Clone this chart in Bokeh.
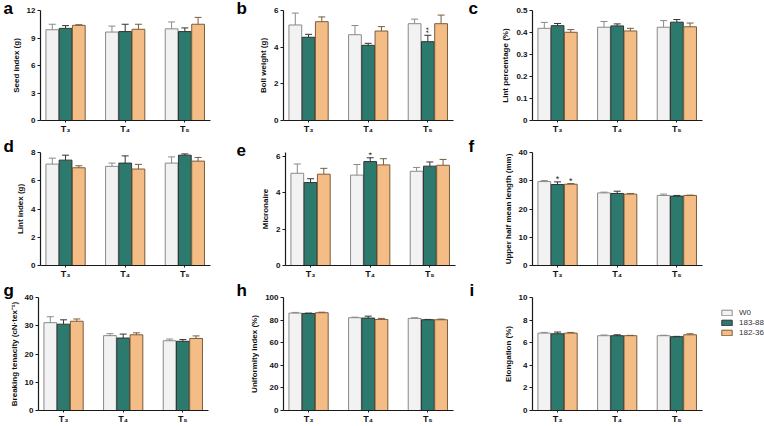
from bokeh.plotting import figure
from bokeh.layouts import column, row
from bokeh.models import (ColumnDataSource, Whisker, TeeHead, FixedTicker, Label,
                          Legend, LegendItem, Range1d)
from bokeh.embed import file_html
from bokeh.resources import INLINE

# ---------------- data ----------------
groups = ["T₃", "T₄", "T₅"]
series = ["W0", "183-88", "182-36"]

# each list: [W0, 183-88, 182-36], each inner list: [T3, T4, T5]
seed_mean = [[9.90, 9.65, 10.00], [10.05, 9.70, 9.70], [10.38, 9.95, 10.50]]
seed_sd = [[0.60, 0.65, 0.75], [0.30, 0.80, 0.40], [0.07, 0.55, 0.75]]

boll_mean = [[5.21, 4.68, 5.28], [4.54, 4.10, 4.30], [5.39, 4.88, 5.28]]
boll_sd = [[0.65, 0.50, 0.25], [0.16, 0.11, 0.35], [0.26, 0.24, 0.47]]

lintpct_mean = [[0.419, 0.424, 0.424], [0.431, 0.430, 0.447], [0.401, 0.407, 0.426]]
lintpct_sd = [[0.027, 0.026, 0.030], [0.010, 0.009, 0.012], [0.012, 0.012, 0.017]]

lintidx_mean = [[7.18, 7.02, 7.25], [7.46, 7.25, 7.81], [6.92, 6.83, 7.39]]
lintidx_sd = [[0.42, 0.23, 0.44], [0.35, 0.51, 0.09], [0.14, 0.33, 0.26]]

micro_mean = [[5.06, 4.96, 5.17], [4.55, 5.70, 5.45], [5.01, 5.52, 5.50]]
micro_sd = [[0.51, 0.58, 0.21], [0.21, 0.21, 0.23], [0.32, 0.34, 0.32]]

uhml_mean = [[29.70, 25.70, 24.80], [28.65, 25.50, 24.56], [28.77, 25.26, 24.80]]
uhml_sd = [[0.36, 0.26, 0.46], [0.95, 0.80, 0.24], [0.23, 0.24, 0.10]]

tenac_mean = [[31.1, 26.5, 24.7], [30.55, 25.65, 24.5], [31.6, 26.8, 25.5]]
tenac_sd = [[2.1, 0.7, 0.6], [1.55, 1.4, 0.6], [0.8, 0.7, 0.9]]

unif_mean = [[86.2, 82.1, 81.5], [85.9, 81.8, 80.3], [86.5, 80.6, 80.3]]
unif_sd = [[0.6, 0.5, 0.6], [0.3, 1.7, 0.3], [0.5, 0.9, 0.6]]

elong_mean = [[6.85, 6.62, 6.62], [6.79, 6.62, 6.53], [6.85, 6.62, 6.70]]
elong_sd = [[0.06, 0.06, 0.04], [0.15, 0.08, 0.03], [0.06, 0.03, 0.09]]

# significance marks: (panel letter, group index, series index, text)
sig_marks = [("b", 2, 1, "**"), ("e", 1, 1, "*"), ("f", 0, 1, "*"), ("f", 0, 2, "*")]

# ---------------- style ----------------
FONT = "Liberation Sans"
fill_colors = ["#f2f2f2", "#2c7a6d", "#f5bd86"]
line_colors = ["#8a8a8a", "#333333", "#7a5c3c"]
offsets = [-0.222, 0.0, 0.222]
BAR_W = 0.214
LETTER_PX = 17
TITLE_H = 1.17 * LETTER_PX

panels = [
    ("a", seed_mean, seed_sd, "Seed index (g)", [0, 3, 6, 9, 12]),
    ("b", boll_mean, boll_sd, "Boll weight (g)", [0, 2, 4, 6]),
    ("c", lintpct_mean, lintpct_sd, "Lint percentage (%)", [0, 0.1, 0.2, 0.3, 0.4, 0.5]),
    ("d", lintidx_mean, lintidx_sd, "Lint index (g)", [0, 2, 4, 6, 8]),
    ("e", micro_mean, micro_sd, "Micronaire", [0, 2, 4, 6]),
    ("f", uhml_mean, uhml_sd, "Upper half mean length (mm)", [0, 10, 20, 30, 40]),
    ("g", tenac_mean, tenac_sd, "Breaking tenacity (cN·tex⁻¹)", [0, 10, 20, 30, 40]),
    ("h", unif_mean, unif_sd, "Uniformity index (%)", [0, 20, 40, 60, 80, 100]),
    ("i", elong_mean, elong_sd, "Elongation (%)", [0, 2, 4, 6, 8, 10]),
]

# layout in page pixels (page origin at 0,0)
col_cells = [(0, 236), (236, 462), (462, 764)]
row_cells = [(0, 137), (137, 281), (281, 426)]
legend_cell = (706, 764)
frames = {
    "a": (40, 10, 210, 121), "b": (283, 10, 453, 121), "c": (532, 10, 702, 120),
    "d": (40, 152, 210, 266), "e": (285, 152, 455, 266), "f": (532, 152, 702, 266),
    "g": (38, 297, 208, 410), "h": (283, 297, 453, 410), "i": (532, 297, 702, 410),
}
letter_pos = {
    "a": (3, 17), "b": (236, 17), "c": (468, 17),
    "d": (3, 155), "e": (236, 155), "f": (468, 154),
    "g": (3, 295), "h": (236, 293), "i": (469, 292),
}
y_extra = {"e": 0.2}


def make_panel(idx, letter, mean, sd, ylabel, yticks):
    cx0, cx1 = col_cells[idx % 3]
    if letter == "i":
        cx1 = legend_cell[0]
    cy0, cy1 = row_cells[idx // 3]
    fx0, fy0, fx1, fy1 = frames[letter]
    ytop = yticks[-1] + y_extra.get(letter, 0)
    p = figure(width=cx1 - cx0, height=cy1 - cy0,
               x_range=Range1d(0.58, 3.43), y_range=Range1d(0, ytop),
               output_backend="svg", toolbar_location=None,
               min_border_left=fx0 - cx0, min_border_right=cx1 - fx1,
               min_border_top=fy0 - cy0, min_border_bottom=cy1 - fy1)
    p.outline_line_color = None
    p.xgrid.visible = False
    p.ygrid.visible = False
    p.background_fill_color = "white"
    p.border_fill_color = "white"

    # panel letter as title (placed left of the frame)
    lx, lb = letter_pos[letter]
    top_border = fy0 - cy0
    standoff = min(-2 * ((lb - fy0) + 0.6), top_border - 2 - TITLE_H)
    p.title.text = letter
    p.title.align = "left"
    p.title.vertical_align = "bottom"
    p.title.offset = lx - fx0
    p.title.standoff = standoff
    p.title.text_font = FONT
    p.title.text_font_style = "bold"
    p.title.text_font_size = f"{LETTER_PX}px"
    p.title.text_color = "#000000"

    for k in range(3):
        xs = [g + 1 + offsets[k] for g in range(len(groups))]
        tops = mean[k]
        uppers = [m + s for m, s in zip(mean[k], sd[k])]
        src = ColumnDataSource(dict(x=xs, top=tops, upper=uppers))
        w = Whisker(base="x", lower="top", upper="upper", source=src, dimension="height",
                    line_color=line_colors[k], line_width=1, level="glyph",
                    upper_head=TeeHead(size=7, line_color=line_colors[k], line_width=1),
                    lower_head=None)
        p.add_layout(w)
        p.vbar(x="x", top="top", bottom=0, width=BAR_W, source=src,
               fill_color=fill_colors[k], line_color=line_colors[k], line_width=1)

    p.xaxis.ticker = FixedTicker(ticks=[1, 2, 3])
    p.xaxis.major_label_overrides = {1: groups[0], 2: groups[1], 3: groups[2]}
    p.yaxis.ticker = FixedTicker(ticks=yticks)
    p.yaxis.axis_label = ylabel
    for ax in p.axis:
        ax.axis_line_color = "#1a1a1a"
        ax.axis_line_width = 1.2
        ax.major_tick_line_color = "#1a1a1a"
        ax.major_tick_line_width = 1
        ax.major_tick_out = 3
        ax.major_tick_in = 0
        ax.minor_tick_out = 0
        ax.minor_tick_in = 0
        ax.major_label_text_font = FONT
        ax.major_label_text_font_style = "bold"
        ax.major_label_text_font_size = "8px"
        ax.major_label_text_color = "#111111"
        ax.major_label_standoff = 2
        ax.axis_label_text_font = FONT
        ax.axis_label_text_font_style = "bold"
        ax.axis_label_text_font_size = "8px"
        ax.axis_label_text_color = "#111111"
        ax.axis_label_standoff = 3
    p.xaxis.major_label_text_font_size = "9px"
    p.xaxis.major_tick_out = 2
    p.xaxis.major_label_standoff = 1

    for (pl, gi, si, txt) in sig_marks:
        if pl != letter:
            continue
        xv = gi + 1 + offsets[si]
        yv = mean[si][gi] + sd[si][gi]
        if len(txt) > 1:
            p.add_layout(Label(x=xv, y=yv, text=txt, angle=90, angle_units="deg",
                               text_font=FONT, text_font_size="8px", text_color="#222222",
                               text_align="left", text_baseline="middle", y_offset=2, x_offset=1))
        else:
            p.add_layout(Label(x=xv, y=yv, text=txt, text_font=FONT, text_font_size="9px",
                               text_color="#222222", text_align="center",
                               text_baseline="bottom", y_offset=-2))
    return p


figs = [make_panel(i, *spec) for i, spec in enumerate(panels)]

# legend in its own small figure to the right of panel i
# (its bar renderers are hidden; only their legend swatches are drawn)
lcy0, lcy1 = row_cells[2]
lf = figure(width=legend_cell[1] - legend_cell[0], height=lcy1 - lcy0,
            x_range=Range1d(0.58, 3.43), y_range=Range1d(0, 10),
            output_backend="svg", toolbar_location=None, title=None,
            x_axis_location=None, y_axis_location=None, min_border=0)
lf.min_border_left = 0
lf.min_border_right = 0
lf.min_border_top = 0
lf.min_border_bottom = 0
lf.outline_line_color = None
lf.grid.visible = False
lf.background_fill_color = "white"
lf.border_fill_color = "white"
leg_rs = []
for k in range(3):
    xs = [g + 1 + offsets[k] for g in range(len(groups))]
    r = lf.vbar(x=xs, top=elong_mean[k], bottom=0, width=BAR_W,
                fill_color=fill_colors[k], line_color=line_colors[k], line_width=1)
    r.visible = False
    leg_rs.append(r)
items = [LegendItem(label=series[k], renderers=[leg_rs[k]]) for k in range(3)]
frame_bottom = frames["i"][3]
leg = Legend(items=items, location=(720 - legend_cell[0], frame_bottom - 337),
             label_text_font=FONT, label_text_font_size="8px",
             label_text_color="#333333", glyph_width=13, glyph_height=7,
             label_height=10, spacing=0, padding=0, margin=0,
             label_standoff=6, border_line_color=None,
             background_fill_alpha=0, inactive_fill_alpha=0)
lf.add_layout(leg)

layout = column(row(figs[0], figs[1], figs[2]),
                row(figs[3], figs[4], figs[5]),
                row(figs[6], figs[7], figs[8], lf))

open("out.html", "w").write(file_html(layout, INLINE))
